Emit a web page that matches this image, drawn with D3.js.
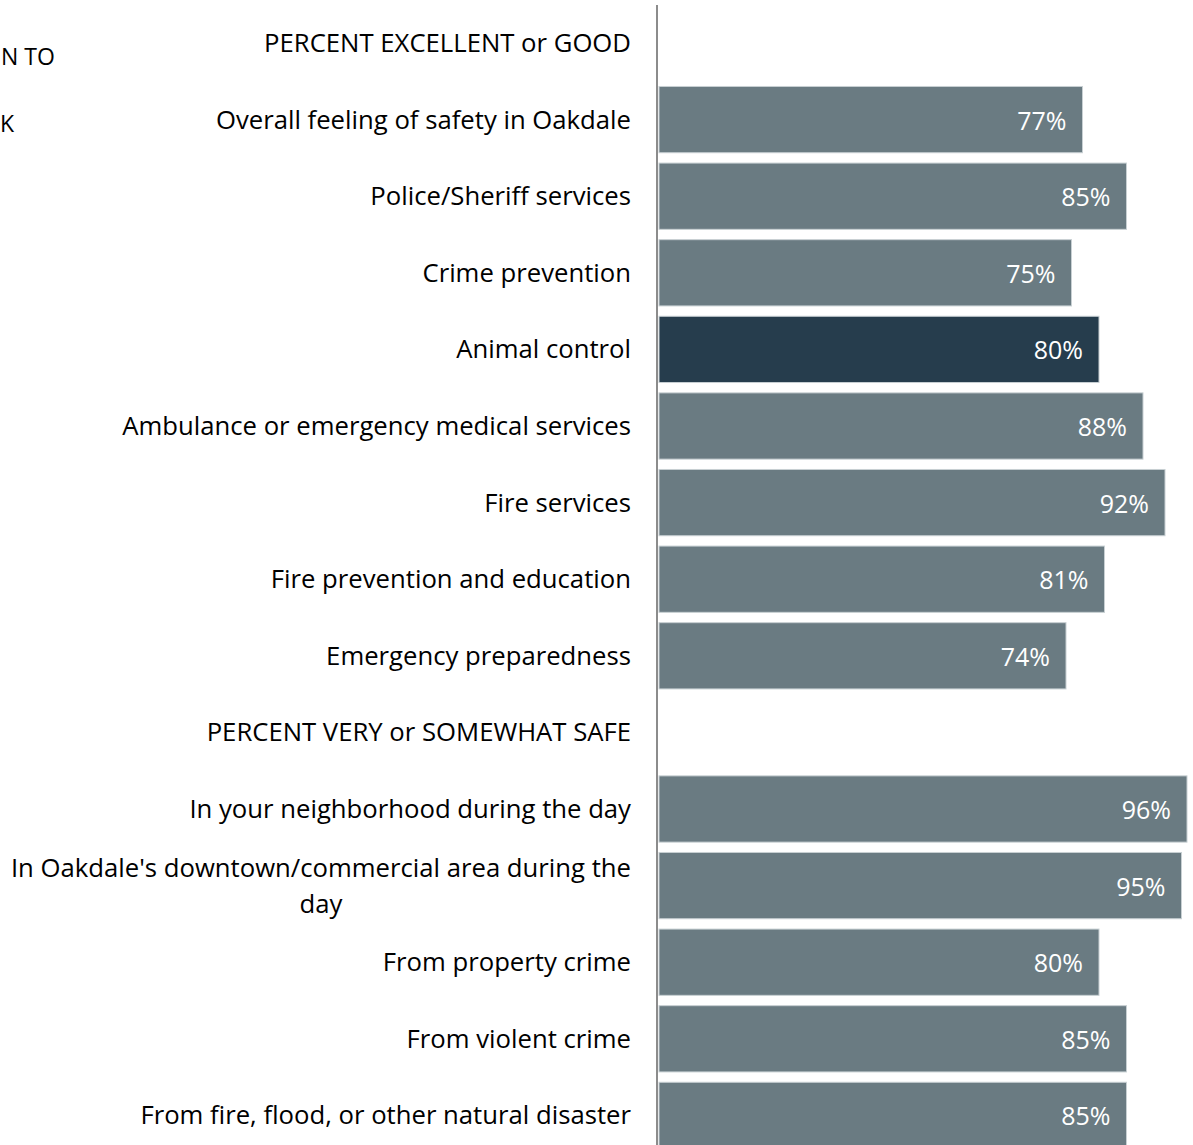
<!DOCTYPE html>
<html><head><meta charset="utf-8">
<script src="https://cdn.jsdelivr.net/npm/d3@7"></script>
<style>
html,body{margin:0;padding:0;background:#fff;overflow:hidden}
svg{display:block}
</style></head>
<body>
<svg id="chart" width="1193" height="1145"></svg>
<script>
const categories = [
  "PERCENT EXCELLENT or GOOD",
  "Overall feeling of safety in Oakdale",
  "Police/Sheriff services",
  "Crime prevention",
  "Animal control",
  "Ambulance or emergency medical services",
  "Fire services",
  "Fire prevention and education",
  "Emergency preparedness",
  "PERCENT VERY or SOMEWHAT SAFE",
  "In your neighborhood during the day",
  "In Oakdale's downtown/commercial area during the day",
  "From property crime",
  "From violent crime",
  "From fire, flood, or other natural disaster"
];
const values = [null, 77, 85, 75, 80, 88, 92, 81, 74, null, 96, 95, 80, 85, 85];
const highlighted = ["Animal control"];
const clippedTitle = ["N TO", "K"];

const svg = d3.select("#chart");
const font = "'Open Sans', sans-serif";
const axisX = 657;

const x = d3.scaleLinear().domain([0, 100]).range([659, 1209]);
const y = d3.scaleBand().domain(categories).range([4.7, 4.7 + 76.6 * categories.length]).paddingInner(0.135).paddingOuter(0.0675);

// title fragments at left
svg.append("text").attr("x", 1).attr("y", 65).attr("text-anchor", "start")
  .attr("font-family", font).attr("font-size", 23).attr("fill", "#000").text(clippedTitle[0]);
svg.append("text").attr("x", 0).attr("y", 132).attr("text-anchor", "start")
  .attr("font-family", font).attr("font-size", 23).attr("fill", "#000").text(clippedTitle[1]);

const data = categories.map((c, i) => ({c, v: values[i]}));

// bars
svg.append("g").selectAll("rect").data(data.filter(d => d.v != null)).join("rect")
  .attr("x", x(0)).attr("y", d => y(d.c))
  .attr("width", d => x(d.v) - x(0)).attr("height", y.bandwidth())
  .attr("fill", d => highlighted.includes(d.c) ? "#263d4d" : "#6a7b82")
  .attr("stroke", "#c8d0d3").attr("stroke-width", 1);

// value labels
svg.append("g").selectAll("text").data(data.filter(d => d.v != null)).join("text")
  .attr("x", d => x(d.v) - 16).attr("y", d => y(d.c) + y.bandwidth() / 2 + 10)
  .attr("text-anchor", "end").attr("font-family", font).attr("font-size", 25)
  .attr("fill", "#fff").text(d => d.v + "%");

// axis
const axis = d3.axisLeft(y).tickSize(0).tickFormat("");
const ag = svg.append("g").attr("transform", `translate(${axisX},0)`).call(axis);
ag.select(".domain").attr("stroke", "#8c8c8c").attr("stroke-width", 2)
  .attr("d", `M0,5V1145`);

// category labels
const labelRight = 631, maxW = 650, fs = 25.7, lh = 36;
const lg = svg.append("g").attr("font-family", font).attr("font-size", fs).attr("fill", "#000");
data.forEach(d => {
  const cy = y(d.c) + y.bandwidth() / 2;
  const t = lg.append("text").attr("x", labelRight).attr("text-anchor", "end").attr("y", cy + 9).text(d.c);
  if (t.node().getComputedTextLength() > maxW) {
    const words = d.c.split(" ");
    let lines = [], cur = [];
    t.text("");
    words.forEach(w => {
      const test = cur.concat([w]).join(" ");
      t.text(test);
      if (t.node().getComputedTextLength() > maxW && cur.length) { lines.push(cur.join(" ")); cur = [w]; }
      else cur.push(w);
    });
    lines.push(cur.join(" "));
    t.text(lines[0]);
    const w0 = t.node().getComputedTextLength();
    t.remove();
    const top = cy - (lines.length - 1) * lh / 2 + 9;
    lines.forEach((ln, i) => {
      lg.append("text").attr("x", labelRight - w0 / 2).attr("text-anchor", "middle")
        .attr("y", top + i * lh).text(ln);
    });
  }
});
</script>
</body></html>
